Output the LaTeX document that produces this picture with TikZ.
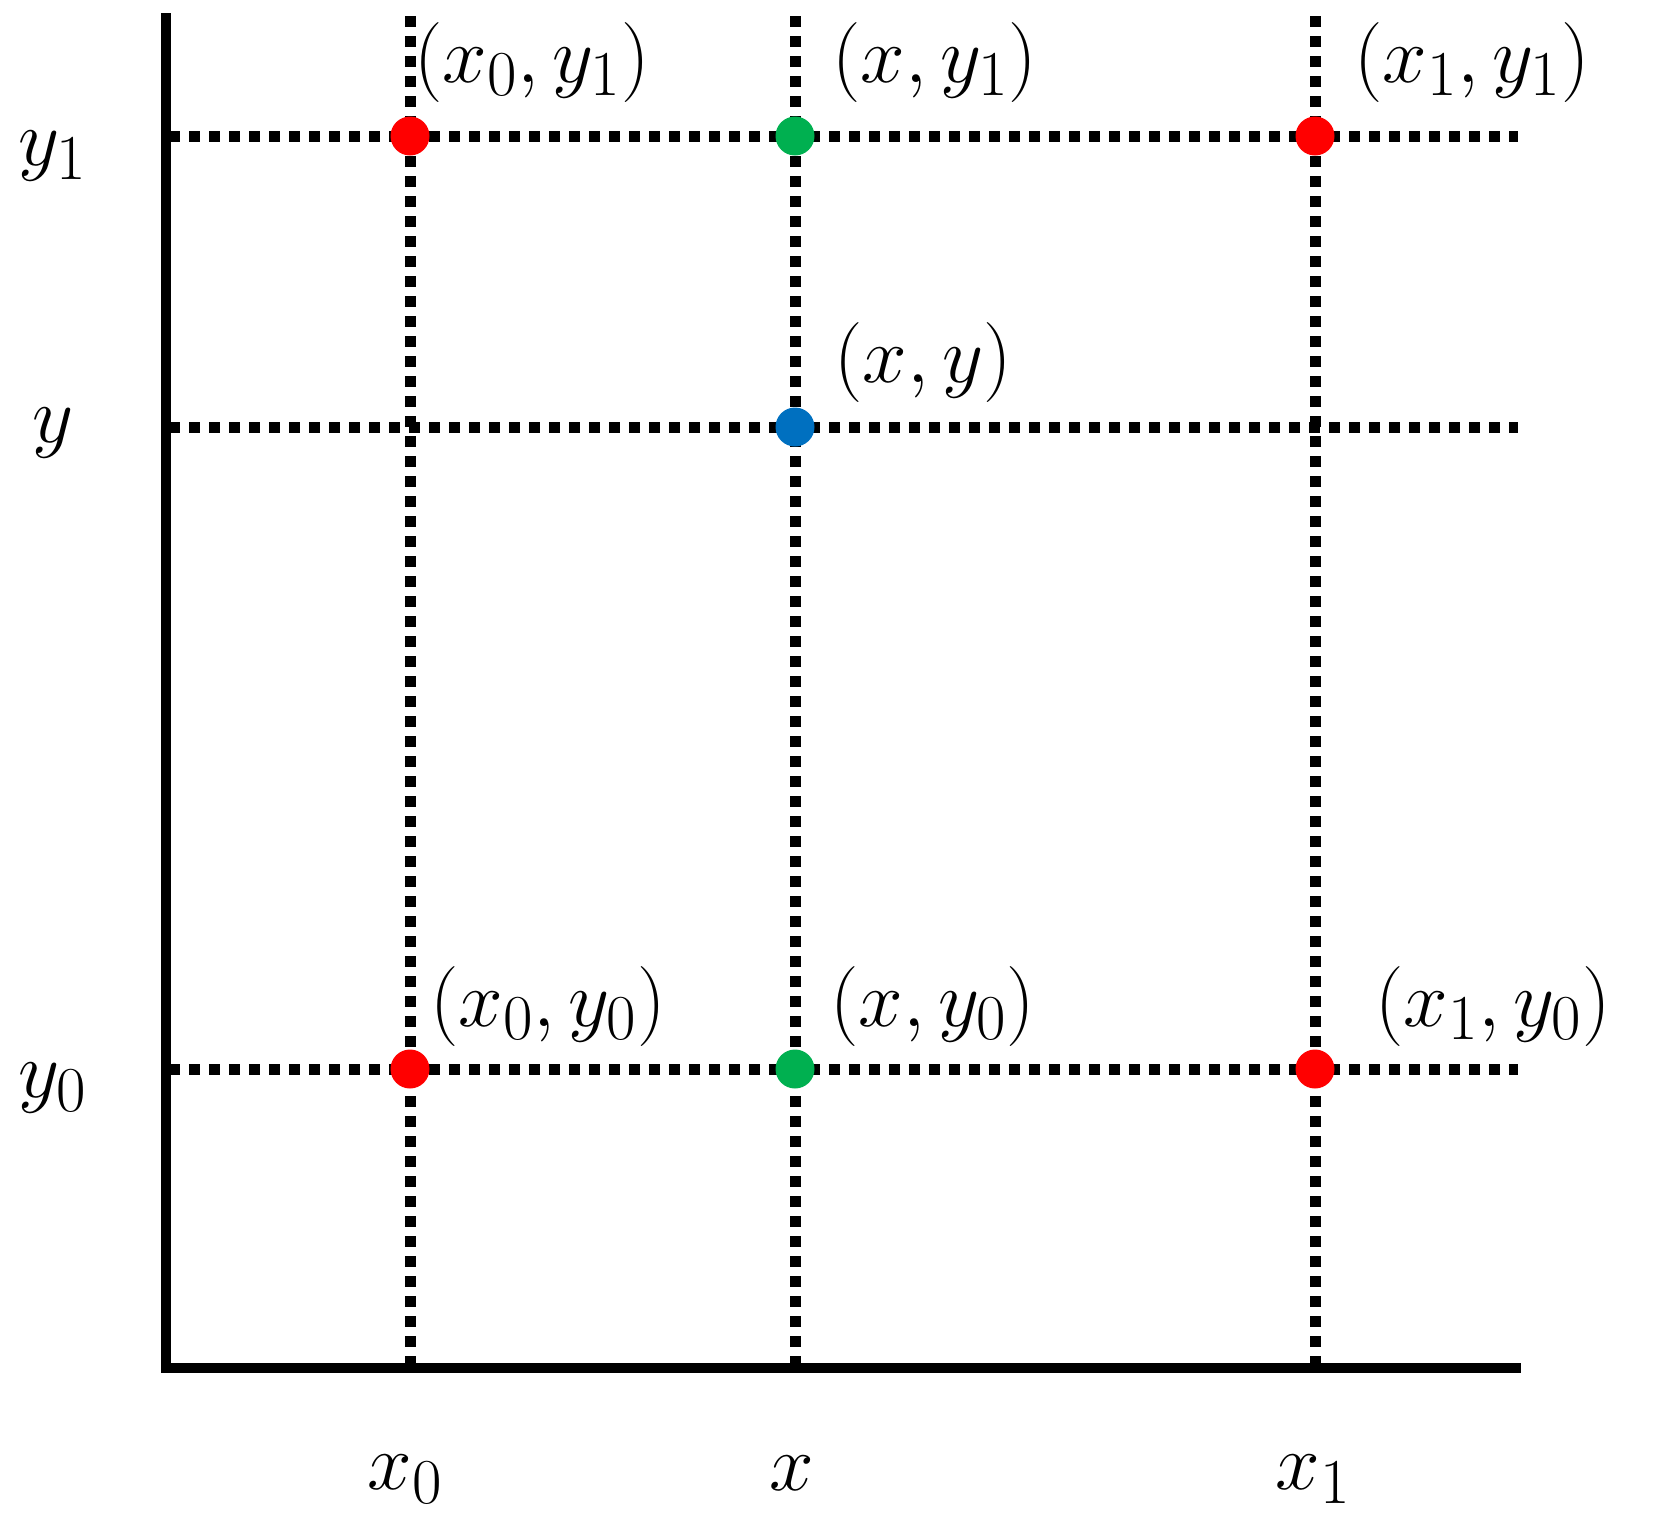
\RequirePackage{fix-cm}
\documentclass[tikz,border=0pt]{standalone}
\usepackage{amsmath}
\DeclareMathSizes{40}{40}{32}{26}
\begin{document}
\begin{tikzpicture}[x=0.5pt,y=-0.5pt,
  axis/.style={line width=5pt,line cap=rect},
  grid/.style={line width=5.5pt,dash pattern=on 5.5pt off 4.5pt},
  pt/.style={circle,inner sep=0pt,minimum size=19.5pt,fill=#1},
  lbl/.style={inner sep=0pt,font=\fontsize{40}{46}\selectfont},
  plbl/.style={lbl,anchor=west}]
\definecolor{cred}{RGB}{255,0,0}
\definecolor{cgreen}{RGB}{0,176,80}
\definecolor{cblue}{RGB}{0,112,192}
\useasboundingbox (0,0) rectangle (1656,1533);
% grid coordinates
\coordinate (X0t) at (410,16);  \coordinate (X0b) at (410,1368);
\coordinate (Xt) at (795,16);   \coordinate (Xb) at (795,1368);
\coordinate (X1t) at (1315,16); \coordinate (X1b) at (1315,1368);
\coordinate (Y1l) at (169,136); \coordinate (Y1r) at (1518,136);
\coordinate (Yl) at (169,427);  \coordinate (Yr) at (1518,427);
\coordinate (Y0l) at (169,1069);\coordinate (Y0r) at (1518,1069);
\coordinate (O) at (166,1368);  \coordinate (T) at (166,18); \coordinate (R) at (1516,1368);
% dotted lines
\draw[grid] (X0t) -- (X0b);
\draw[grid] (Xt) -- (Xb);
\draw[grid] (X1t) -- (X1b);
\draw[grid] (Y1l) -- (Y1r);
\draw[grid] (Yl) -- (Yr);
\draw[grid] (Y0l) -- (Y0r);
% axes
\draw[axis] (T) -- (O) -- (R);
% points
\node[pt=cred] (p01) at (410,136) {};
\node[pt=cgreen] (px1) at (795,136) {};
\node[pt=cred] (p11) at (1315,136) {};
\node[pt=cblue] (pxy) at (795,427) {};
\node[pt=cred] (p00) at (410,1069) {};
\node[pt=cgreen] (px0) at (795,1069) {};
\node[pt=cred] (p10) at (1315,1069) {};
% point labels
\node[plbl] (l01) at (414,62) {$(x_0,y_1)$};
\node[plbl] (lx1) at (832,62) {$(x,y_1)$};
\node[plbl] (l11) at (1354,62) {$(x_1,y_1)$};
\node[plbl] (lxy) at (834,362) {$(x,y)$};
\node[plbl] (l00) at (430,1006) {$(x_0,y_0)$};
\node[plbl] (lx0) at (830,1006) {$(x,y_0)$};
\node[plbl] (l10) at (1375,1006) {$(x_1,y_0)$};
% axis labels
\node[lbl] (ly1) at (53,156) {$y_1$};
\node[lbl] (ly) at (53,433) {$y$};
\node[lbl] (ly0) at (53,1088) {$y_0$};
\node[lbl] (lx0a) at (405,1479) {$x_0$};
\node[lbl] (lxa) at (792,1473) {$x$};
\node[lbl] (lx1a) at (1313,1479) {$x_1$};
\end{tikzpicture}
\end{document}
